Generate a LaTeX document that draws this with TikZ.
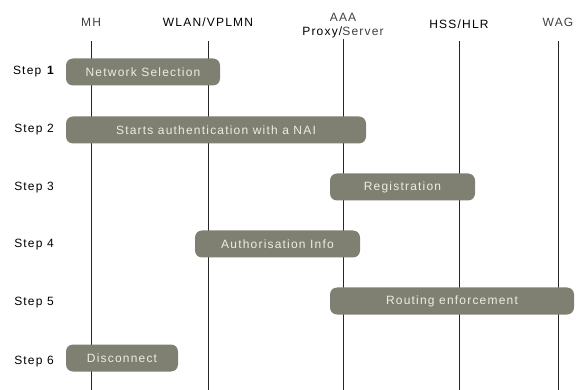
\documentclass[tikz,border=0pt]{standalone}
\usepackage{fontspec}
\setmainfont{Liberation Sans}
\newfontfamily\diagfont[LetterSpace=10]{Liberation Sans}
\definecolor{boxgrey}{RGB}{128,128,114}
\definecolor{boxtext}{RGB}{236,236,228}

\begin{document}
\begin{tikzpicture}[x=1pt,y=-1pt,
  ent/.style={anchor=south,inner xsep=0pt,inner ysep=0pt,text depth=3pt,font=\diagfont\fontsize{12}{14}\selectfont},
  steplbl/.style={font=\diagfont\fontsize{12}{14}\selectfont},
  msg/.style={fill=boxgrey,rounded corners=7pt,text=boxtext,inner sep=0pt,minimum height=27pt,font=\diagfont\fontsize{12}{14}\selectfont},
  lifeline/.style={draw=black!85,line width=0.8pt}]
  \useasboundingbox (0,0) rectangle (584,390);
  % entities
  \node[ent,text=black!75,inner ysep=11pt] (mh) at (91,41) {MH};
  \node[ent,inner ysep=11pt] (wlan) at (208,41) {WLAN/VPLMN};
  \node[ent,align=center,text=black!75,inner ysep=0pt] (aaa) at (343,39) {AAA\\\textcolor{black}{Proxy/}Server};
  \node[ent,inner ysep=9pt] (hss) at (459,41) {HSS/HLR};
  \node[ent,text=black!75,inner ysep=11pt] (wag) at (558,41) {WAG};
  \coordinate (mhend) at (91,390);
  \coordinate (wlanend) at (208,390);
  \coordinate (aaaend) at (343,390);
  \coordinate (hssend) at (459,390);
  \coordinate (wagend) at (558,390);
  \draw[lifeline] (mh.south) -- (mhend);
  \draw[lifeline] (wlan.south) -- (wlanend);
  \draw[lifeline] (aaa.south) -- (aaaend);
  \draw[lifeline] (hss.south) -- (hssend);
  \draw[lifeline] (wag.south) -- (wagend);
  % steps
  \node[steplbl] (s1) at (34,72) {Step \textbf{1}};
  \node[steplbl] (s2) at (34,130) {Step 2};
  \node[steplbl] (s3) at (34,188) {Step 3};
  \node[steplbl] (s4) at (34,245) {Step 4};
  \node[steplbl] (s5) at (34,303) {Step 5};
  \node[steplbl] (s6) at (34,362) {Step 6};
  % messages
  \node[msg,minimum width=154pt] (sel) at (143,72) {Network Selection};
  \node[msg,minimum width=300pt] (nai) at (216,130) {Starts authentication with a NAI};
  \node[msg,minimum width=145pt] (reg) at (402.5,187) {Registration};
  \node[msg,minimum width=165pt] (auth) at (277.5,244) {Authorisation Info};
  \node[msg,minimum width=244pt] (route) at (452,301) {Routing enforcement};
  \node[msg,minimum width=112pt] (disc) at (122,358) {Disconnect};
\end{tikzpicture}
\end{document}
